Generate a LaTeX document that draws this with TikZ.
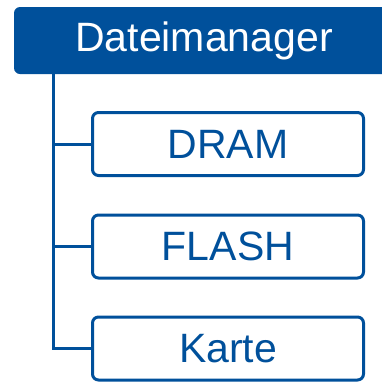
\documentclass[tikz,border=0pt]{standalone}
\usepackage{fontspec}
\setmainfont{Liberation Sans}
\usepackage{tikz}
\usetikzlibrary{positioning}
\definecolor{dmblue}{RGB}{0,80,155}

\begin{document}
\begin{tikzpicture}[
  x=1pt,y=1pt,
  node distance=37pt,
  head/.style={fill=dmblue,rounded corners=6pt,text=white,minimum width=380pt,minimum height=67pt,inner sep=0pt,font=\fontsize{41}{46}\selectfont},
  leaf/.style={draw=dmblue,line width=3pt,rounded corners=6pt,text=dmblue,minimum width=271pt,minimum height=63pt,inner sep=0pt,font=\fontsize{41}{46}\selectfont},
  branch/.style={draw=dmblue,line width=3pt}
]
\clip (0,0) rectangle (382,-381);
\node[head] (root) at (204,-40.5) {Dateimanager};
\node[leaf] (n1) at (228,-144) {DRAM};
\node[leaf] (n2) at (228,-246.5) {FLASH};
\node[leaf] (n3) at (228,-348.5) {Karte};
\coordinate (trunk) at (53.5,-74);
\draw[branch] (trunk) |- (n1.west);
\draw[branch] (trunk) |- (n2.west);
\draw[branch] (trunk) |- (n3.west);
\end{tikzpicture}
\end{document}
